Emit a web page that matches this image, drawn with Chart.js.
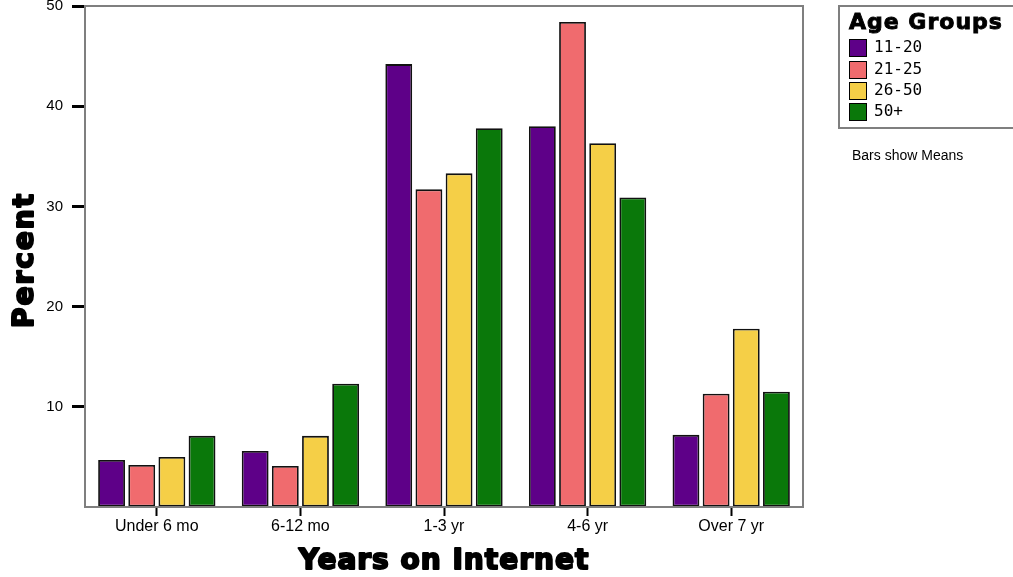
<!DOCTYPE html>
<html>
<head>
<meta charset="utf-8">
<script src="https://cdn.jsdelivr.net/npm/chart.js@4/dist/chart.umd.min.js"></script>
<style>
  html, body { margin: 0; padding: 0; background: #fff; }
  #wrap { position: relative; width: 1013px; height: 577px; overflow: hidden; }
  #c { position: absolute; left: 0; top: 0; }
  #legend { position: absolute; left: 838px; top: 5px; width: 185px; height: 124px;
            border: 2px solid #7f7f7f; box-sizing: border-box; background: #fff; }
  #legend .title { position: absolute; left: 9px; top: 2px; font: bold 22px "DejaVu Sans", sans-serif; color: #000; letter-spacing: 1px; -webkit-text-stroke: 0.9px #000; }
  #legend .item { position: absolute; left: 9px; height: 18px; }
  #legend .sw { position: absolute; left: 0; top: 0; width: 16px; height: 16px; border: 1.5px solid #000; }
  #legend .lab { position: absolute; left: 25px; top: -2px; font: 16px "DejaVu Sans Mono", monospace; color: #000; white-space: nowrap; }
  #note { position: absolute; left: 852px; top: 147px; font: 14px "Liberation Sans Narrow", "Liberation Sans", sans-serif; color: #000; }
</style>
</head>
<body>
<div id="wrap">
  <canvas id="c" width="1013" height="577"></canvas>
  <div id="legend"></div>
  <div id="note">Bars show Means</div>
</div>
<script>
const categories = ["Under 6 mo", "6-12 mo", "1-3 yr", "4-6 yr", "Over 7 yr"];
const seriesNames = ["11-20", "21-25", "26-50", "50+"];
const age11_20 = [4.7, 5.6, 44.2, 38.0, 7.2];
const age21_25 = [4.2, 4.1, 31.7, 48.4, 11.3];
const age26_50 = [5.0, 7.1, 33.3, 36.3, 17.8];
const age50plus = [7.1, 12.3, 37.8, 30.9, 11.5];
const yTicks = [10, 20, 30, 40, 50];
const xTitle = "Years on Internet";
const yTitle = "Percent";
const colors = ["#5E0088", "#F06B6E", "#F5CF47", "#0A780A"];
const allSeries = [age11_20, age21_25, age26_50, age50plus];

// HTML legend
const legend = document.getElementById('legend');
legend.innerHTML = '<div class="title">Age Groups</div>';
const rowTops = [32, 54, 75, 96];
seriesNames.forEach((n, i) => {
  const d = document.createElement('div');
  d.className = 'item';
  d.style.top = rowTops[i] + 'px';
  d.innerHTML = '<div class="sw" style="background:' + colors[i] + '"></div><div class="lab">' + n + '</div>';
  legend.appendChild(d);
});

const frame = {
  id: 'frame',
  afterDraw(chart) {
    const a = chart.chartArea, ctx = chart.ctx;
    ctx.save();
    ctx.strokeStyle = '#7f7f7f';
    ctx.lineWidth = 2;
    ctx.strokeRect(a.left, a.top, a.right - a.left, a.bottom - a.top);
    // heavy axis titles
    ctx.fillStyle = '#000';
    ctx.strokeStyle = '#000';
    ctx.lineWidth = 2;
    ctx.lineJoin = 'round';
    ctx.font = 'bold 28px "DejaVu Sans", sans-serif';
    ctx.letterSpacing = '1px';
    ctx.textAlign = 'center';
    ctx.textBaseline = 'alphabetic';
    const cx = (a.left + a.right) / 2;
    ctx.fillText(xTitle, cx, 569);
    ctx.strokeText(xTitle, cx, 569);
    ctx.translate(33, 260);
    ctx.rotate(-Math.PI / 2);
    ctx.letterSpacing = '2px';
    ctx.fillText(yTitle, 0, 0);
    ctx.strokeText(yTitle, 0, 0);
    ctx.restore();
  }
};

new Chart(document.getElementById('c'), {
  type: 'bar',
  data: {
    labels: categories,
    datasets: allSeries.map((vals, i) => ({
      label: seriesNames[i],
      data: vals,
      backgroundColor: colors[i],
      borderColor: '#111',
      borderWidth: 1.8,
      borderSkipped: false,
      categoryPercentage: 0.84,
      barPercentage: 0.89
    }))
  },
  options: {
    responsive: false,
    animation: false,
    devicePixelRatio: 1,
    layout: { padding: { top: 6, right: 210, left: 0, bottom: 0 } },
    plugins: { legend: { display: false }, tooltip: { enabled: false } },
    scales: {
      x: {
        grid: { offset: false, drawOnChartArea: false, drawTicks: true, tickLength: 9, tickColor: '#000', tickWidth: 2 },
        border: { display: false },
        ticks: { color: '#000', padding: 1, font: { family: '"Liberation Sans Narrow", "Liberation Sans", sans-serif', size: 16 } },
        afterFit(s) { s.height = 70; s.paddingLeft = 0; s.paddingRight = 0; }
      },
      y: {
        min: 0, max: 50,
        afterBuildTicks(s) { s.ticks = [0].concat(yTicks).map(v => ({ value: v })); },
        grid: { drawOnChartArea: false, drawTicks: true, tickLength: 13, tickWidth: 3,
                tickColor: (c) => c.tick && c.tick.value === 0 ? 'rgba(0,0,0,0)' : '#000' },
        border: { display: false },
        ticks: { color: '#000', padding: 9, callback: (v) => v === 0 ? '' : v,
                 font: { family: '"Liberation Sans Narrow", "Liberation Sans", sans-serif', size: 15 } },
        afterFit(s) { s.width = 85; s.paddingTop = 0; s.paddingBottom = 0; }
      }
    }
  },
  plugins: [frame]
});
</script>
</body>
</html>
